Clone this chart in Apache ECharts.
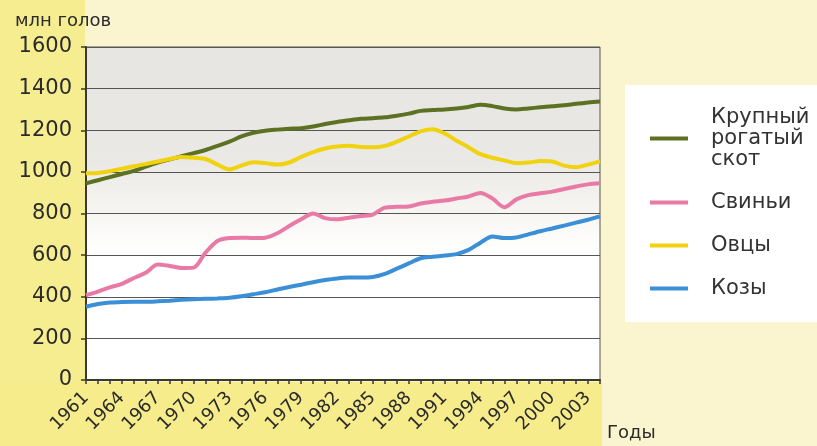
<!DOCTYPE html>
<html>
<head>
<meta charset="utf-8">
<script src="https://cdn.jsdelivr.net/npm/echarts@6/dist/echarts.min.js"></script>
<style>
  html, body { margin: 0; padding: 0; }
  #livestock { width: 817px; height: 446px; }
</style>
</head>
<body>
<div id="livestock"></div>
<script>
const years = [];
for (let y = 1961; y <= 2004; y++) years.push(String(y));

const cattle = [945, 960, 975, 990, 1005, 1025, 1045, 1060, 1075, 1090,
    1105, 1125, 1145, 1170, 1188, 1198, 1203, 1207, 1210, 1218,
    1230, 1240, 1248, 1255, 1258, 1262, 1270, 1280, 1293, 1297,
    1300, 1305, 1312, 1322, 1316, 1305, 1300, 1305, 1310, 1315,
    1320, 1327, 1333, 1338];
const pigs = [408, 425, 445, 462, 490, 515, 555, 548, 538, 540,
    612, 668, 682, 684, 682, 684, 705, 740, 772, 800,
    778, 772, 780, 788, 795, 828, 832, 834, 848, 856,
    862, 872, 882, 898, 872, 830, 868, 888, 897, 905,
    918, 930, 940, 945];
const sheep = [993, 995, 1003, 1015, 1027, 1038, 1050, 1062, 1072, 1068,
    1062, 1035, 1012, 1030, 1046, 1042, 1035, 1045, 1072, 1095,
    1112, 1122, 1125, 1120, 1118, 1125, 1145, 1170, 1195, 1205,
    1185, 1150, 1118, 1085, 1068, 1055, 1042, 1045, 1052, 1050,
    1030, 1022, 1035, 1052];
const goats = [352, 365, 372, 375, 376, 376, 378, 381, 385, 388,
    390, 392, 395, 402, 412, 422, 435, 447, 458, 470,
    480, 488, 492, 492, 495, 510, 535, 560, 585, 592,
    598, 605, 625, 660, 690, 682, 685, 700, 715, 728,
    742, 756, 770, 786];

const names = ['Крупный\nрогатый\nскот', 'Свиньи', 'Овцы', 'Козы'];
const colors = ['#5d7122', '#e97aa6', '#f0d20e', '#3b8fd6'];
const font = 'DejaVu Sans';

function line(name, data, color) {
    return {
        name,
        type: 'line',
        data,
        smooth: 0.3,
        showSymbol: false,
        lineStyle: {width: 4, color},
        itemStyle: {color},
    };
}

option = {
    backgroundColor: '#fbf5cf',
    animation: false,
    graphic: [
        // yellow strips left and under the plot
        {type: 'rect', z: -10, shape: {x: 0, y: 0, width: 85, height: 446}, style: {fill: '#f6ec90'}},
        {type: 'rect', z: -10, shape: {x: 0, y: 382, width: 602, height: 64}, style: {fill: '#f6ec8c'}},
        // legend box
        {type: 'rect', z: -10, shape: {x: 625, y: 85, width: 192, height: 237}, style: {fill: '#ffffff'}},
    ],
    title: {
        text: 'млн голов',
        left: 10,
        top: 7,
        textStyle: {fontFamily: font, fontSize: 18, fontWeight: 'normal', color: '#2b2b2b'},
    },
    legend: {
        orient: 'vertical',
        left: 645,
        top: 102,
        icon: 'rect',
        itemWidth: 38,
        itemHeight: 4,
        itemGap: 22,
        textStyle: {fontFamily: font, fontSize: 21, lineHeight: 21, color: '#333', padding: [0, 0, 0, 18]},
        data: names,
    },
    grid: {
        left: 86,
        right: 217,
        top: 47,
        bottom: 66,
        show: true,
        borderColor: '#555',
        borderWidth: 1,
        backgroundColor: new echarts.graphic.LinearGradient(0, 0, 0, 1, [
            {offset: 0, color: '#e7e5e1'},
            {offset: 0.35, color: '#ebe9e5'},
            {offset: 0.5, color: '#f7f6f3'},
            {offset: 0.62, color: '#ffffff'},
            {offset: 1, color: '#ffffff'},
        ]),
    },
    xAxis: {
        type: 'category',
        data: years,
        boundaryGap: false,
        axisLine: {lineStyle: {color: '#3a3a2c', width: 2}},
        axisTick: {show: true, interval: 0, length: 4, lineStyle: {color: '#3a3a2c', width: 1.5}},
        axisLabel: {
            interval: 2,
            rotate: 45,
            margin: 15,
            fontFamily: font,
            fontSize: 18,
            color: '#2b2b2b',
        },
        splitLine: {show: false},
        name: 'Годы',
        nameLocation: 'end',
        nameGap: 7,
        nameTextStyle: {
            fontFamily: font,
            fontSize: 18,
            color: '#2b2b2b',
            align: 'left',
            verticalAlign: 'top',
            padding: [44, 0, 0, 0],
        },
    },
    yAxis: {
        type: 'value',
        min: 0,
        max: 1600,
        interval: 200,
        axisLine: {show: true, lineStyle: {color: '#3a3a2c', width: 2}},
        axisTick: {show: true, length: 5, lineStyle: {color: '#3a3a2c', width: 1.5}},
        axisLabel: {margin: 14, fontFamily: font, fontSize: 21, color: '#2b2b2b', formatter: v => String(v)},
        splitLine: {show: true, lineStyle: {color: '#555', width: 1}},
    },
    series: [
        line(names[0], cattle, colors[0]),
        line(names[1], pigs, colors[1]),
        line(names[2], sheep, colors[2]),
        line(names[3], goats, colors[3]),
    ],
};

dom = document.getElementById('livestock');
chart = echarts.init(dom);
chart.setOption(option);
</script>
</body>
</html>
